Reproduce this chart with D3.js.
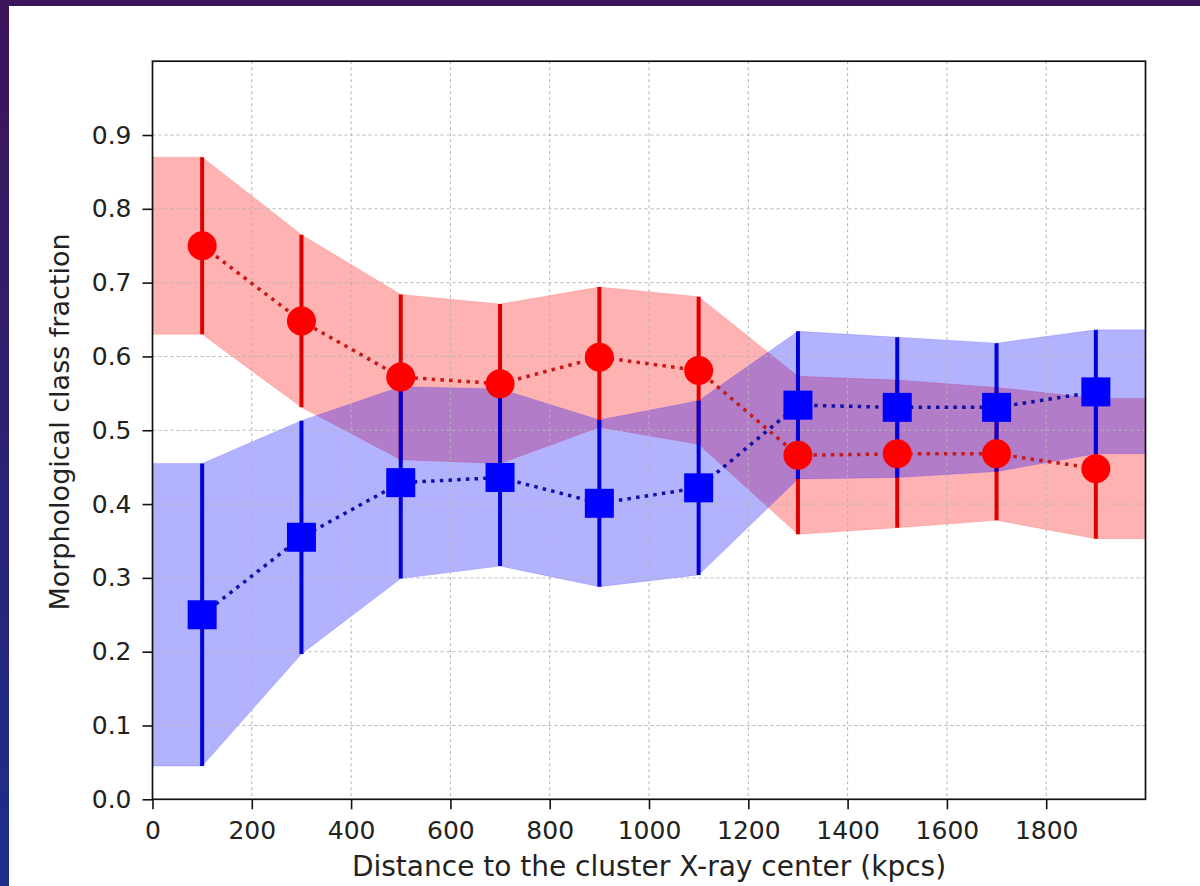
<!DOCTYPE html>
<html>
<head>
<meta charset="utf-8">
<script src="https://cdn.jsdelivr.net/npm/d3@7"></script>
<style>
	body { margin: 0; background: #2a1f70; }
	svg { display: block; }
	.tick text { font-family: "DejaVu Sans", sans-serif; font-size: 25px; fill: #222; }
</style>
</head>
<body>
<svg width="1200" height="886"></svg>
<script>
// distances of the radial bins (kpc)
var distances = [100, 300, 500, 700, 900, 1100, 1300, 1500, 1700, 1900];

// red circles
var redFrac = [0.750, 0.648, 0.572, 0.563, 0.599, 0.581, 0.466, 0.468, 0.468, 0.448];
var redErr  = [0.120, 0.117, 0.112, 0.108, 0.095, 0.100, 0.107, 0.100, 0.090, 0.095];

// blue squares
var blueFrac = [0.250, 0.355, 0.429, 0.436, 0.401, 0.422, 0.534, 0.531, 0.531, 0.552];
var blueErr  = [0.205, 0.158, 0.130, 0.120, 0.113, 0.118, 0.100, 0.095, 0.087, 0.084];

// ticks
var xTicks = [0, 200, 400, 600, 800, 1000, 1200, 1400, 1600, 1800];
var yTicks = [0.0, 0.1, 0.2, 0.3, 0.4, 0.5, 0.6, 0.7, 0.8, 0.9];
var xDomain = [0, 2000];
var yDomain = [0, 1];

(function() {
	var svg = d3.select("svg"), width = +svg.attr("width"), height = +svg.attr("height");

	// slide background behind the figure
	var defs = svg.append("defs");
	var grad = defs.append("linearGradient").attr("id", "bg").attr("x1", 0).attr("y1", 0).attr("x2", 0).attr("y2", 1);
	grad.append("stop").attr("offset", "0%").attr("stop-color", "#3c1459");
	grad.append("stop").attr("offset", "100%").attr("stop-color", "#1c2f8c");
	svg.append("rect").attr("width", width).attr("height", height).attr("fill", "url(#bg)");
	svg.append("rect").attr("x", 9).attr("y", 6).attr("width", width - 9).attr("height", height - 6).attr("fill", "#fff");

	var pLeft = 152.5, pRight = 1145.5, pTop = 61.2, pBottom = 799.3;
	var x = d3.scaleLinear().domain(xDomain).range([pLeft, pRight]);
	var y = d3.scaleLinear().domain(yDomain).range([pBottom, pTop]);

	// build series records
	function series(frac, err) {
		return distances.map(function(d, i) {
			return { x: d, v: frac[i], lo: frac[i] - err[i], hi: frac[i] + err[i] };
		});
	}
	var red = series(redFrac, redErr);
	var blue = series(blueFrac, blueErr);

	// band is flat out to the axis edges
	function bandPoints(s) {
		var first = s[0], last = s[s.length - 1];
		return [{ x: xDomain[0], lo: first.lo, hi: first.hi }].concat(s, [{ x: xDomain[1], lo: last.lo, hi: last.hi }]);
	}

	var area = d3.area()
		.x(function(d) { return x(d.x); })
		.y0(function(d) { return y(d.lo); })
		.y1(function(d) { return y(d.hi); });

	var plot = svg.append("g");

	plot.append("path").datum(bandPoints(red)).attr("d", area)
		.attr("fill", "#ff0000").attr("fill-opacity", 0.3)
		.attr("stroke", "#ff0000").attr("stroke-opacity", 0.15).attr("stroke-width", 1);
	plot.append("path").datum(bandPoints(blue)).attr("d", area)
		.attr("fill", "#0000ff").attr("fill-opacity", 0.3)
		.attr("stroke", "#0000ff").attr("stroke-opacity", 0.15).attr("stroke-width", 1);

	// grid
	var grid = svg.append("g").attr("stroke", "#b4b4b4").attr("stroke-width", 1).attr("stroke-dasharray", "3,3");
	grid.selectAll("line.gx").data(xTicks.slice(1)).enter().append("line")
		.attr("x1", function(d) { return x(d); }).attr("x2", function(d) { return x(d); })
		.attr("y1", pTop).attr("y2", pBottom);
	grid.selectAll("line.gy").data(yTicks.slice(1)).enter().append("line")
		.attr("y1", function(d) { return y(d); }).attr("y2", function(d) { return y(d); })
		.attr("x1", pLeft).attr("x2", pRight);

	// error bars
	function errorBars(s, color) {
		svg.append("g").selectAll("line").data(s).enter().append("line")
			.attr("x1", function(d) { return x(d.x); }).attr("x2", function(d) { return x(d.x); })
			.attr("y1", function(d) { return y(d.lo); }).attr("y2", function(d) { return y(d.hi); })
			.attr("stroke", color).attr("stroke-width", 4);
	}
	errorBars(red, "#dd0000");
	errorBars(blue, "#0000d8");

	// dotted connecting lines
	var line = d3.line().x(function(d) { return x(d.x); }).y(function(d) { return y(d.v); });
	svg.append("path").datum(red).attr("d", line).attr("fill", "none")
		.attr("stroke", "#c81818").attr("stroke-width", 3.5).attr("stroke-dasharray", "3.5,5.2");
	svg.append("path").datum(blue).attr("d", line).attr("fill", "none")
		.attr("stroke", "#1010a8").attr("stroke-width", 3.5).attr("stroke-dasharray", "3.5,5.2");

	// markers
	var sq = 29;
	svg.append("g").selectAll("rect").data(blue).enter().append("rect")
		.attr("x", function(d) { return x(d.x) - sq / 2; })
		.attr("y", function(d) { return y(d.v) - sq / 2; })
		.attr("width", sq).attr("height", sq)
		.attr("fill", "#0000ff");
	svg.append("g").selectAll("circle").data(red).enter().append("circle")
		.attr("cx", function(d) { return x(d.x); })
		.attr("cy", function(d) { return y(d.v); })
		.attr("r", 14.5)
		.attr("fill", "#ff0000");

	// axes
	var xAxis = svg.append("g").attr("transform", "translate(0," + pBottom + ")")
		.call(d3.axisBottom(x).tickValues(xTicks).tickFormat(d3.format("d")).tickSize(10).tickPadding(12).tickSizeOuter(0));
	var yAxis = svg.append("g").attr("transform", "translate(" + pLeft + ",0)")
		.call(d3.axisLeft(y).tickValues(yTicks).tickFormat(d3.format(".1f")).tickSize(10).tickPadding(11).tickSizeOuter(0));
	[xAxis, yAxis].forEach(function(a) {
		a.select(".domain").remove();
		a.selectAll(".tick line").attr("stroke", "#111").attr("stroke-width", 1.6);
	});

	// frame
	svg.append("rect").attr("x", pLeft).attr("y", pTop).attr("width", pRight - pLeft).attr("height", pBottom - pTop)
		.attr("fill", "none").attr("stroke", "#111").attr("stroke-width", 1.7);

	// labels
	svg.append("text").attr("x", (pLeft + pRight) / 2).attr("y", 876)
		.attr("text-anchor", "middle")
		.style("font-family", "DejaVu Sans, sans-serif").style("font-size", "28px").style("fill", "#222")
		.text("Distance to the cluster X-ray center (kpcs)");
	svg.append("text").attr("transform", "translate(69,422) rotate(-90)")
		.attr("text-anchor", "middle")
		.style("font-family", "DejaVu Sans, sans-serif").style("font-size", "27px").style("fill", "#222")
		.text("Morphological class fraction");
})();
</script>
</body>
</html>
